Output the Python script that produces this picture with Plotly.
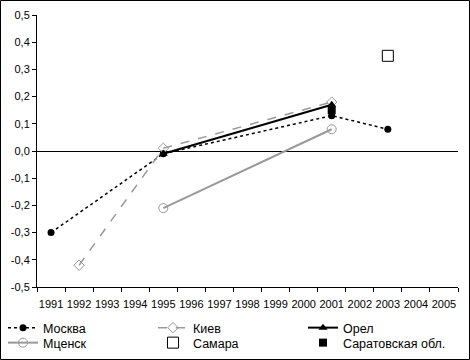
import plotly.graph_objects as go

years = [str(y) for y in range(1991, 2006)]

moskva_x = ["1991", "1995", "2001", "2003"]
moskva_y = [-0.30, -0.01, 0.13, 0.08]

kiev_x = ["1992", "1995", "2001"]
kiev_y = [-0.42, 0.01, 0.18]

orel_x = ["1995", "2001"]
orel_y = [-0.01, 0.17]

mcensk_x = ["1995", "2001"]
mcensk_y = [-0.21, 0.08]

samara_x = ["2003"]
samara_y = [0.35]

saratov_x = ["2001"]
saratov_y = [0.15]

y_ticks = [-0.5, -0.4, -0.3, -0.2, -0.1, 0.0, 0.1, 0.2, 0.3, 0.4, 0.5]
y_ticktext = ["-0,5", "-0,4", "-0,3", "-0,2", "-0,1", "0,0", "0,1", "0,2", "0,3", "0,4", "0,5"]

GRAY = "#999999"
fig = go.Figure()
fig.add_trace(go.Scatter(x=moskva_x, y=moskva_y, name="Москва", mode="lines+markers",
                         line=dict(color="black", width=1.5, dash="dot"),
                         marker=dict(symbol="circle", size=7, color="black"), legend="legend"))
fig.add_trace(go.Scatter(x=kiev_x, y=kiev_y, name="Киев", mode="lines+markers",
                         line=dict(color=GRAY, width=1.5, dash="dash"),
                         marker=dict(symbol="diamond-open", size=8, color=GRAY, line=dict(width=1)),
                         legend="legend"))
fig.add_trace(go.Scatter(x=orel_x, y=orel_y, name="Орел", mode="lines+markers",
                         line=dict(color="black", width=2),
                         marker=dict(symbol="triangle-up", size=8, color="black"), legend="legend"))
fig.add_trace(go.Scatter(x=mcensk_x, y=mcensk_y, name="Мценск", mode="lines+markers",
                         line=dict(color=GRAY, width=2),
                         marker=dict(symbol="circle-open", size=9, color=GRAY, line=dict(width=1)),
                         legend="legend2"))
fig.add_trace(go.Scatter(x=samara_x, y=samara_y, name="Самара", mode="markers",
                         marker=dict(symbol="square-open", size=11, color="black", line=dict(width=1)),
                         legend="legend2"))
fig.add_trace(go.Scatter(x=saratov_x, y=saratov_y, name="Саратовская обл.", mode="markers",
                         marker=dict(symbol="square", size=8, color="black"), legend="legend2"))

L, R, T, B = 37, 12, 15, 73
W, H = 470, 360
pw, ph = W - L - R, H - T - B

legend_common = dict(orientation="h", xanchor="left", yanchor="middle",
                     entrywidth=105, entrywidthmode="pixels",
                     font=dict(size=12.5), tracegroupgap=0, itemwidth=30,
                     bgcolor="rgba(0,0,0,0)")

fig.update_layout(
    width=W, height=H,
    margin=dict(l=L, r=R, t=T, b=B, pad=0, autoexpand=False),
    paper_bgcolor="white", plot_bgcolor="white",
    font=dict(family="Liberation Sans, Arial, sans-serif", size=11, color="black"),
    xaxis=dict(type="category", categoryorder="array", categoryarray=years,
               tickvals=years, range=[-0.5, 14.5], tickson="boundaries",
               ticks="outside", ticklen=4, tickcolor="black", showline=True,
               linecolor="black", linewidth=1, showgrid=False, zeroline=False,
               tickangle=0, automargin=False, ticklabelstandoff=7,
               tickfont=dict(size=11, family="Liberation Sans Narrow, Liberation Sans, Arial")),
    yaxis=dict(range=[-0.5, 0.5], tickvals=y_ticks, ticktext=y_ticktext,
               ticks="outside", ticklen=4, tickcolor="black", showline=True,
               linecolor="black", linewidth=1, showgrid=False, automargin=False,
               zeroline=True, zerolinecolor="black", zerolinewidth=1),
    showlegend=True,
    legend=dict(x=(3 - L) / pw, y=(T + ph - 328) / ph, **legend_common),
    legend2=dict(x=(3 - L) / pw, y=(T + ph - 343) / ph, **legend_common),
    shapes=[dict(type="rect", xref="paper", yref="paper",
                 x0=(0.5 - L) / pw, x1=(W - 0.5 - L) / pw,
                 y0=(T + ph - (H - 0.5)) / ph, y1=(T + ph - 0.5) / ph,
                 line=dict(color="black", width=1), fillcolor="rgba(0,0,0,0)")],
)

fig.write_html("out.html", config={"displayModeBar": False},
               post_script="document.body.style.margin='0';document.body.style.overflow='hidden';")
